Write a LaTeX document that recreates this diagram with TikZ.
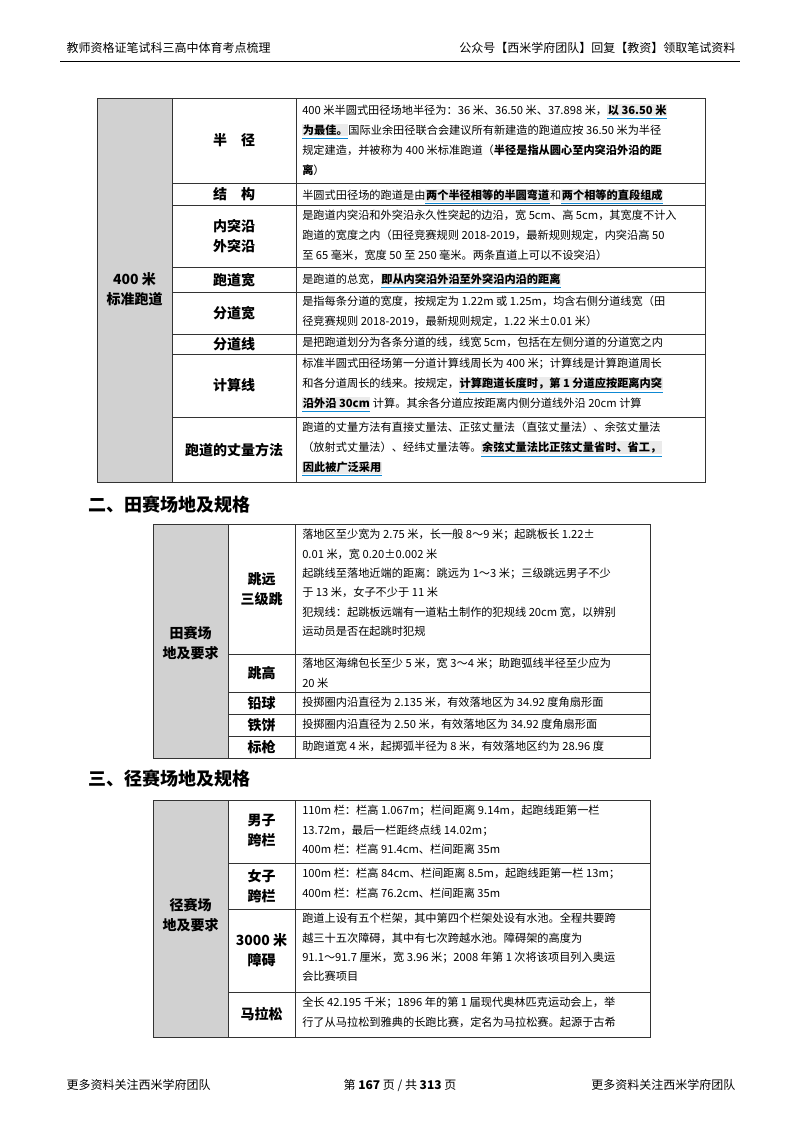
\documentclass[tikz,border=0pt]{standalone}
\usepackage{fontspec}
\setmainfont{Noto Sans CJK SC}
\newcommand\hlt[1]{{\setlength{\fboxsep}{0.5pt}\color{cyan!70!blue}\underline{\colorbox{black!8}{\color{black}\textbf{#1}}}}}
\begin{document}
\begin{tikzpicture}[x=0.75pt,y=-0.75pt,
  grid/.style={draw=black!80,line width=0.6pt},
  lab/.style={font=\fontsize{10.5}{15}\selectfont\bfseries,align=center},
  txt/.style={anchor=north west,inner sep=0pt,align=left,font=\fontsize{8.4}{15}\selectfont},
  txtb/.style={txt,font=\fontsize{8.4}{14.5}\selectfont}]
\useasboundingbox (0,0) rectangle (800,1132);
% header/footer
\node[anchor=west,font=\fontsize{9}{10}\selectfont] (h1) at (62,48) {教师资格证笔试科三高中体育考点梳理};
\node[anchor=east,font=\fontsize{9}{10}\selectfont] (h2) at (740,48) {公众号【西米学府团队】回复【教资】领取笔试资料};
\draw[line width=0.5pt] (60,61) -- (740,61);
\node[anchor=west,font=\fontsize{9}{10}\selectfont] (f1) at (62,1085) {更多资料关注西米学府团队};
\node[font=\fontsize{9}{10}\selectfont] (f2) at (400,1085) {第 \textbf{167} 页 / 共 \textbf{313} 页};
\node[anchor=east,font=\fontsize{9}{10}\selectfont] (f3) at (740,1085) {更多资料关注西米学府团队};
% ---- table 1
\fill[black!18] (97,98) rectangle (172,482);
\draw[grid] (97,98) rectangle (705,482);
\draw[grid] (172,98) -- (172,482) (296,98) -- (296,482);
\foreach \y in {183,205,267,292,334,354,417} \draw[grid] (172,\y) -- (705,\y);
\node[lab] (a0) at (134.5,289) {400 米\\标准跑道};
\node[lab] (a1) at (234,140) {半\quad 径};
\node[lab] (a2) at (234,194) {结\quad 构};
\node[lab] (a3) at (234,236) {内突沿\\外突沿};
\node[lab] (a4) at (234,280) {跑道宽};
\node[lab] (a5) at (234,313) {分道宽};
\node[lab] (a6) at (234,344) {分道线};
\node[lab] (a7) at (234,385) {计算线};
\node[lab] (a8) at (234,450) {跑道的丈量方法};
\node[txt] (b1) at (302,104) {400 米半圆式田径场地半径为：36 米、36.50 米、37.898 米，\hlt{以 36.50 米}\\\hlt{为最佳。}国际业余田径联合会建议所有新建造的跑道应按 36.50 米为半径\\规定建造，并被称为 400 米标准跑道（\textbf{半径是指从圆心至内突沿外沿的距}\\\textbf{离}）};
\node[txt] (b2) at (302,189) {半圆式田径场的跑道是由\hlt{两个半径相等的半圆弯道}和\hlt{两个相等的直段组成}};
\node[txt] (b3) at (302,210) {是跑道内突沿和外突沿永久性突起的边沿，宽 5cm、高 5cm，其宽度不计入\\跑道的宽度之内（田径竞赛规则 2018-2019，最新规则规定，内突沿高 50\\至 65 毫米，宽度 50 至 250 毫米。两条直道上可以不设突沿）};
\node[txt] (b4) at (302,273) {是跑道的总宽，\hlt{即从内突沿外沿至外突沿内沿的距离}};
\node[txt] (b5) at (302,296) {是指每条分道的宽度，按规定为 1.22m 或 1.25m，均含右侧分道线宽（田\\径竞赛规则 2018-2019，最新规则规定，1.22 米±0.01 米）};
\node[txt] (b6) at (302,337) {是把跑道划分为各条分道的线，线宽 5cm，包括在左侧分道的分道宽之内};
\node[txt] (b7) at (302,358) {标准半圆式田径场第一分道计算线周长为 400 米；计算线是计算跑道周长\\和各分道周长的线来。按规定，\hlt{计算跑道长度时，第 1 分道应按距离内突}\\\hlt{沿外沿 30cm} 计算。其余各分道应按距离内侧分道线外沿 20cm 计算};
\node[txt] (b8) at (302,422) {跑道的丈量方法有直接丈量法、正弦丈量法（直弦丈量法）、余弦丈量法\\（放射式丈量法）、经纬丈量法等。\hlt{余弦丈量法比正弦丈量省时、省工，}\\\hlt{因此被广泛采用}};
% ---- heading 2
\node[anchor=west,font=\fontsize{13.5}{15}\selectfont\bfseries] (t2) at (84,505) {二、田赛场地及规格};
\fill[black!18] (153,524) rectangle (228,758);
\draw[grid] (153,524) rectangle (650,758);
\draw[grid] (228,524) -- (228,758) (295,524) -- (295,758);
\foreach \y in {654,692,714,736} \draw[grid] (228,\y) -- (650,\y);
\node[lab] (c0) at (190.5,643) {田赛场\\地及要求};
\node[lab] (c1) at (261.5,589) {跳远\\三级跳};
\node[lab] (c2) at (261.5,673) {跳高};
\node[lab] (c3) at (261.5,703) {铅球};
\node[lab] (c4) at (261.5,725) {铁饼};
\node[lab] (c5) at (261.5,747) {标枪};
\node[txtb] (d1) at (302,529) {落地区至少宽为 2.75 米，长一般 8～9 米；起跳板长 1.22±\\0.01 米，宽 0.20±0.002 米\\起跳线至落地近端的距离：跳远为 1～3 米；三级跳远男子不少\\于 13 米，女子不少于 11 米\\犯规线：起跳板远端有一道粘土制作的犯规线 20cm 宽，以辨别\\运动员是否在起跳时犯规};
\node[txtb] (d2) at (302,658) {落地区海绵包长至少 5 米，宽 3～4 米；助跑弧线半径至少应为\\20 米};
\node[txtb] (d3) at (302,697) {投掷圈内沿直径为 2.135 米，有效落地区为 34.92 度角扇形面};
\node[txtb] (d4) at (302,719) {投掷圈内沿直径为 2.50 米，有效落地区为 34.92 度角扇形面};
\node[txtb] (d5) at (302,741) {助跑道宽 4 米，起掷弧半径为 8 米，有效落地区约为 28.96 度};
% ---- heading 3
\node[anchor=west,font=\fontsize{13.5}{15}\selectfont\bfseries] (t3) at (84,779) {三、径赛场地及规格};
\fill[black!18] (153,800) rectangle (228,1037);
\draw[grid] (153,800) rectangle (650,1037);
\draw[grid] (228,800) -- (228,1037) (295,800) -- (295,1037);
\foreach \y in {863,909,992} \draw[grid] (228,\y) -- (650,\y);
\node[lab] (e0) at (190.5,915) {径赛场\\地及要求};
\node[lab] (e1) at (261.5,831) {男子\\跨栏};
\node[lab] (e2) at (261.5,886) {女子\\跨栏};
\node[lab] (e3) at (261.5,950) {3000 米\\障碍};
\node[lab] (e4) at (261.5,1014) {马拉松};
\node[txtb] (g1) at (302,805) {110m 栏：栏高 1.067m；栏间距离 9.14m，起跑线距第一栏\\13.72m，最后一栏距终点线 14.02m；\\400m 栏：栏高 91.4cm、栏间距离 35m};
\node[txtb] (g2) at (302,868) {100m 栏：栏高 84cm、栏间距离 8.5m，起跑线距第一栏 13m；\\400m 栏：栏高 76.2cm、栏间距离 35m};
\node[txtb] (g3) at (302,913) {跑道上设有五个栏架，其中第四个栏架处设有水池。全程共要跨\\越三十五次障碍，其中有七次跨越水池。障碍架的高度为\\91.1～91.7 厘米，宽 3.96 米；2008 年第 1 次将该项目列入奥运\\会比赛项目};
\node[txtb] (g4) at (302,997) {全长 42.195 千米；1896 年的第 1 届现代奥林匹克运动会上，举\\行了从马拉松到雅典的长跑比赛，定名为马拉松赛。起源于古希};
\end{tikzpicture}
\end{document}
